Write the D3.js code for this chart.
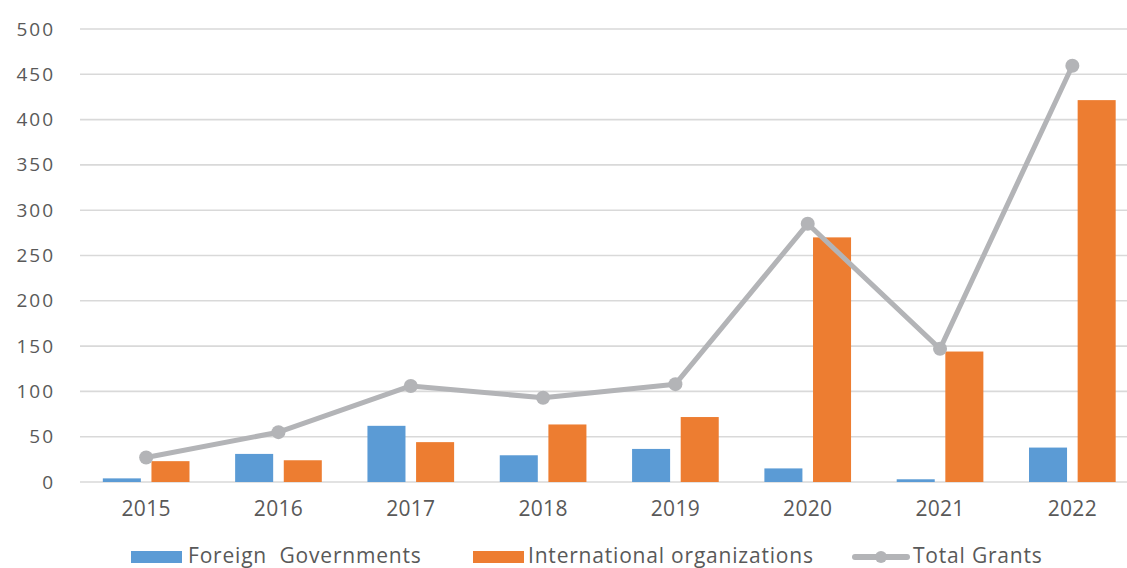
<!DOCTYPE html>
<html>
<head>
<meta charset="utf-8">
<script src="https://cdn.jsdelivr.net/npm/d3@7"></script>
<style>
  html, body { margin: 0; padding: 0; background: #fff; }
  svg { display: block; }
  text { font-family: "Open Sans", sans-serif; fill: #595959; }
</style>
</head>
<body>
<svg id="chart" width="1127" height="568"></svg>
<script>
// Grant sources by year
const years = ["2015", "2016", "2017", "2018", "2019", "2020", "2021", "2022"];
const foreignGovernments = [4, 31, 62, 29.5, 36.5, 15, 3, 38];
const internationalOrgs = [23, 24, 44, 63.5, 71.7, 270, 144, 421.5];
const totalGrants = [27, 55, 106, 93, 108, 285, 147, 459.5];
const yTicks = [0, 50, 100, 150, 200, 250, 300, 350, 400, 450, 500];
const seriesNames = ["Foreign  Governments", "International organizations", "Total Grants"];

const colors = { foreign: "#5B9BD5", intl: "#ED7D31", total: "#B3B4B7" };

const svg = d3.select("#chart");

const x = d3.scaleBand()
  .domain(years)
  .range([80, 1138.5])
  .paddingInner(0.345)
  .paddingOuter(0.1725);

const xSub = d3.scaleBand()
  .domain(["foreign", "intl"])
  .range([0, x.bandwidth()])
  .paddingInner(0.218);

const y = d3.scaleLinear().domain([0, 500]).range([482, 29]);

// Horizontal gridlines
svg.append("g")
  .selectAll("line")
  .data(yTicks)
  .join("line")
  .attr("x1", 80)
  .attr("x2", 1127)
  .attr("y1", d => y(d))
  .attr("y2", d => y(d))
  .attr("stroke", "#D9D9D9")
  .attr("stroke-width", 1.6);

// Y axis labels
const yAxis = d3.axisLeft(y).tickValues(yTicks).tickSize(0).tickPadding(0);
svg.append("g")
  .attr("transform", "translate(53,0)")
  .call(yAxis)
  .call(g => g.select(".domain").remove())
  .call(g => g.selectAll("text")
    .attr("font-size", 19)
    .attr("font-family", "'Open Sans', sans-serif")
    .attr("fill", "#595959")
    .attr("letter-spacing", 2)
    .attr("dx", 2));

// X axis labels
const xAxis = d3.axisBottom(x).tickSize(0).tickPadding(0);
svg.append("g")
  .attr("transform", "translate(0,0)")
  .call(xAxis)
  .call(g => g.select(".domain").remove())
  .call(g => g.selectAll("text")
    .attr("y", 516)
    .attr("dy", 0)
    .attr("font-size", 21)
    .attr("font-family", "'Open Sans', sans-serif")
    .attr("fill", "#595959")
    .attr("letter-spacing", 0.3));

// Bars
const barData = years.map((yr, i) => [
  { year: yr, key: "foreign", value: foreignGovernments[i] },
  { year: yr, key: "intl", value: internationalOrgs[i] }
]).flat();

svg.append("g")
  .selectAll("rect")
  .data(barData)
  .join("rect")
  .attr("x", d => x(d.year) + xSub(d.key))
  .attr("width", xSub.bandwidth())
  .attr("y", d => y(d.value))
  .attr("height", d => y(0) - y(d.value))
  .attr("fill", d => colors[d.key]);

// Total line
const cx = d => x(d) + x.bandwidth() / 2;
const lineData = years.map((yr, i) => ({ year: yr, value: totalGrants[i] }));
svg.append("path")
  .datum(lineData)
  .attr("fill", "none")
  .attr("stroke", colors.total)
  .attr("stroke-width", 5)
  .attr("stroke-linejoin", "round")
  .attr("d", d3.line().x(d => cx(d.year)).y(d => y(d.value)));

svg.append("g")
  .selectAll("circle")
  .data(lineData)
  .join("circle")
  .attr("cx", d => cx(d.year))
  .attr("cy", d => y(d.value))
  .attr("r", 7)
  .attr("fill", colors.total);

// Legend
const legend = svg.append("g");
const legendItems = [
  { name: seriesNames[0], type: "rect", color: colors.foreign, x: 131, tx: 188 },
  { name: seriesNames[1], type: "rect", color: colors.intl, x: 473, tx: 528 },
  { name: seriesNames[2], type: "line", color: colors.total, x: 853, tx: 913 }
];
legendItems.forEach(it => {
  const g = legend.append("g");
  if (it.type === "rect") {
    g.append("rect").attr("x", it.x).attr("y", 551).attr("width", 51).attr("height", 12).attr("fill", it.color);
  } else {
    g.append("line").attr("x1", it.x + 2).attr("x2", it.x + 54).attr("y1", 557).attr("y2", 557)
      .attr("stroke", it.color).attr("stroke-width", 6).attr("stroke-linecap", "round");
    g.append("circle").attr("cx", it.x + 28).attr("cy", 557).attr("r", 6).attr("fill", it.color);
  }
  g.append("text")
    .attr("x", it.tx)
    .attr("y", 563)
    .attr("font-size", 21)
    .attr("letter-spacing", 0.8)
    .attr("xml:space", "preserve")
    .style("white-space", "pre")
    .text(it.name);
});
</script>
</body>
</html>
